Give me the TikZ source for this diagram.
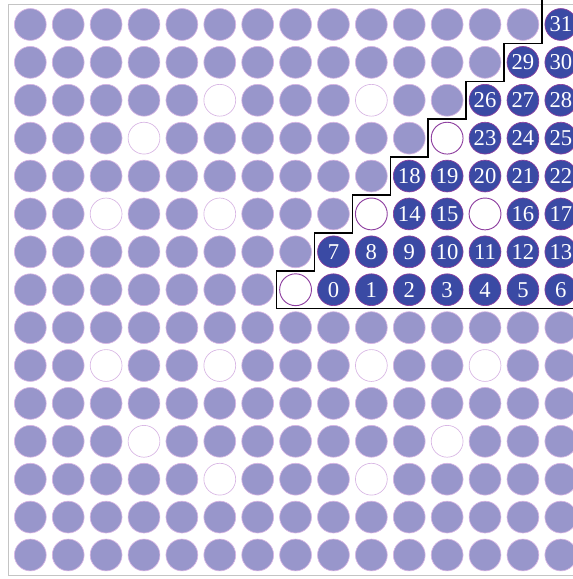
\documentclass[tikz,border=0pt]{standalone}
\usepackage{fontspec}
\setmainfont{Liberation Serif}
\usepackage{xcolor}
\usetikzlibrary{positioning}
\definecolor{dotLight}{HTML}{9896CB}
\definecolor{dotRing}{HTML}{D8B6E4}
\definecolor{dotDark}{HTML}{3A4AA4}
\definecolor{dotEdge}{HTML}{8E3FA0}
\definecolor{frameGrey}{HTML}{C4C4C4}

\newcount\dotnum
\foreach \r/\c in {3/6,3/10,4/4,4/12,6/3,6/6,6/10,6/13,8/8,
                   10/3,10/6,10/10,10/13,12/4,12/12,13/6,13/10}
  {\expandafter\gdef\csname hole-\r-\c\endcsname{}}

\begin{document}
\begin{tikzpicture}[x=1cm, y=-1cm, font=\fontsize{17}{17}\selectfont,
    dot/.style={circle,inner sep=0pt,minimum size=0.84cm,line width=0.5pt},
    litdot/.style={dot,fill=dotLight,draw=dotRing},
    hole/.style={dot,fill=white,draw=dotRing},
    inhole/.style={dot,fill=white,draw=dotEdge,line width=0.7pt},
    numdot/.style={dot,fill=dotDark,draw=dotEdge,text=white},
    stair/.style={draw=black,line width=1.1pt}]
    \clip (0.20,0.354) rectangle (15.32,15.634);
    \draw[frameGrey,line width=0.6pt] (0.41,0.46) rectangle (15.9,15.55);

    \foreach \r in {1,...,15}
      \foreach \c in {1,...,15}{
        \pgfmathtruncatemacro\inside{(\r<9)&&(\c>15-\r)}
        \ifcsname hole-\r-\c\endcsname
          \ifnum\inside=1 \node[inhole] (d-\r-\c) at (\c,\r) {};
          \else \node[hole] (d-\r-\c) at (\c,\r) {};
          \fi
        \else
          \ifnum\inside=0 \node[litdot] (d-\r-\c) at (\c,\r) {}; \fi
        \fi
      }

    \global\dotnum=0
    \foreach \r in {8,7,...,1}{
      \pgfmathtruncatemacro\first{16-\r}
      \foreach \c in {\first,...,15}{
        \ifcsname hole-\r-\c\endcsname\else
          \node[numdot] (d-\r-\c) at (\c,\r) {\the\dotnum};
          \global\advance\dotnum by 1
        \fi
      }
    }

    \draw[stair] (14.5,0.2)
      \foreach \k in {1,...,7}{ -- (15.5-\k,\k+0.5) -- (14.5-\k,\k+0.5) }
      -- (7.5,8.5) -- (16,8.5);
  \end{tikzpicture}
\end{document}
